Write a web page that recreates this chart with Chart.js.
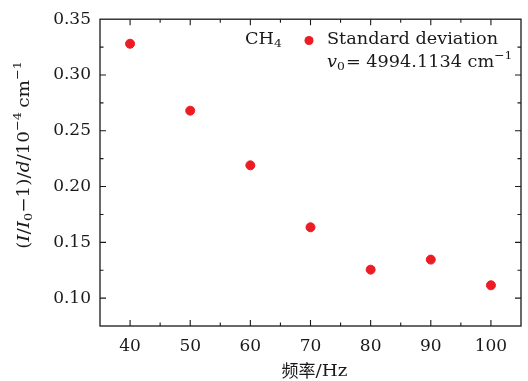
<!DOCTYPE html>
<html>
<head>
<meta charset="utf-8">
<script src="https://cdn.jsdelivr.net/npm/chart.js@4.4.1/dist/chart.umd.min.js"></script>
<style>
  html, body { margin: 0; padding: 0; background: #fff; }
  #wrap { width: 528px; height: 381px; }
</style>
</head>
<body>
<div id="wrap"><canvas id="chart" width="528" height="381"></canvas></div>
<script>
const frequencies = [40, 50, 60, 70, 80, 90, 100];
const deviations = [0.328, 0.268, 0.219, 0.1635, 0.1255, 0.1345, 0.1115];
const xTicks = [40, 50, 60, 70, 80, 90, 100];
const xMinorTicks = [35, 45, 55, 65, 75, 85, 95, 105];
const yTicks = [0.10, 0.15, 0.20, 0.25, 0.30, 0.35];
const yMinorTicks = [0.075, 0.125, 0.175, 0.225, 0.275, 0.325];

const serif = "'DejaVu Serif', 'Liberation Serif', serif";
const textColor = "#1a1a1a";
const red = "rgb(237, 28, 36)";
const fs = 17;
let stretch = 1.08; // reference glyphs are a bit wider than tall

// draws a list of text runs, with italic / sub / sup pieces
function drawRich(ctx, runs, x, y, size) {
  let cx = 0;
  ctx.save();
  ctx.translate(x, y);
  ctx.scale(stretch, 1);
  runs.forEach((r) => {
    const s = r.sub || r.sup ? size * 0.7 : size;
    ctx.font = (r.italic ? "italic " : "") + s + "px " + serif;
    let dy = 0;
    if (r.sub) dy = size * 0.25;
    if (r.sup) dy = -size * 0.4;
    ctx.fillText(r.t, cx, dy);
    cx += ctx.measureText(r.t).width + (r.gap || 0);
  });
  ctx.restore();
  return cx * stretch;
}

function richWidth(ctx, runs, size) {
  let w = 0;
  ctx.save();
  runs.forEach((r) => {
    const s = r.sub || r.sup ? size * 0.7 : size;
    ctx.font = (r.italic ? "italic " : "") + s + "px " + serif;
    w += ctx.measureText(r.t).width + (r.gap || 0);
  });
  ctx.restore();
  return w * stretch;
}

const decorations = {
  id: "decorations",
  afterDraw(chart) {
    const ctx = chart.ctx;
    const a = chart.chartArea;
    const xs = chart.scales.x;
    const ys = chart.scales.y;
    ctx.save();
    ctx.strokeStyle = textColor;
    ctx.lineWidth = 1.3;
    ctx.strokeRect(a.left, a.top, a.right - a.left, a.bottom - a.top);

    // inward ticks on all four sides
    ctx.lineWidth = 1.1;
    ctx.beginPath();
    const tick = (vals, len) => {
      vals.forEach((v) => {
        const px = xs.getPixelForValue(v);
        if (px > a.left + 1 && px < a.right - 1) {
          ctx.moveTo(px, a.bottom); ctx.lineTo(px, a.bottom - len);
          ctx.moveTo(px, a.top); ctx.lineTo(px, a.top + len);
        }
      });
    };
    const ytick = (vals, len) => {
      vals.forEach((v) => {
        const py = ys.getPixelForValue(v);
        if (py > a.top + 1 && py < a.bottom - 1) {
          ctx.moveTo(a.left, py); ctx.lineTo(a.left + len, py);
          ctx.moveTo(a.right, py); ctx.lineTo(a.right - len, py);
        }
      });
    };
    tick(xTicks, 6); tick(xMinorTicks, 3.5);
    ytick(yTicks, 6); ytick(yMinorTicks, 3.5);
    ctx.stroke();

    ctx.fillStyle = textColor;
    ctx.textBaseline = "middle";
    ctx.textAlign = "left";

    // legend
    stretch = 1.04;
    drawRich(ctx, [{ t: "CH" }, { t: "4", sub: true }], 245, 40, fs);
    ctx.fillStyle = red;
    ctx.beginPath();
    ctx.arc(309, 40.5, 4.5, 0, Math.PI * 2);
    ctx.fill();
    ctx.fillStyle = textColor;
    drawRich(ctx, [{ t: "Standard deviation" }], 327, 40, fs);
    drawRich(ctx, [
      { t: "v", italic: true }, { t: "0", sub: true, gap: 1 },
      { t: "= 4994.1134 cm" }, { t: "−1", sup: true }
    ], 327, 63, fs);
    stretch = 1.08;

    // x title
    ctx.font = fs + "px 'Noto Sans CJK SC', sans-serif";
    const cjk = "频率";
    const w1 = ctx.measureText(cjk).width;
    ctx.font = fs + "px " + serif;
    const w2 = ctx.measureText("/Hz").width * stretch;
    const xc = (a.left + a.right) / 2 - (w1 + w2) / 2 + 4;
    ctx.font = fs + "px 'Noto Sans CJK SC', sans-serif";
    ctx.fillText(cjk, xc, 371);
    drawRich(ctx, [{ t: "/Hz" }], xc + w1, 372, fs);

    // y title, rotated
    const yRuns = [
      { t: "(" }, { t: "I", italic: true }, { t: "/" }, { t: "I", italic: true },
      { t: "0", sub: true }, { t: "−1)/" }, { t: "d", italic: true },
      { t: "/10" }, { t: "−4", sup: true, gap: 4 }, { t: "cm" }, { t: "−1", sup: true }
    ];
    const yw = richWidth(ctx, yRuns, fs);
    ctx.translate(25, 155);
    ctx.rotate(-Math.PI / 2);
    drawRich(ctx, yRuns, -yw / 2, 0, fs);
    ctx.restore();
  }
};

new Chart(document.getElementById("chart"), {
  type: "scatter",
  data: {
    datasets: [
      {
        label: "Standard deviation",
        data: frequencies.map((f, i) => ({ x: f, y: deviations[i] })),
        backgroundColor: red,
        borderColor: red,
        pointRadius: 4.5,
        pointHoverRadius: 4.5,
      },
    ],
  },
  options: {
    responsive: false,
    animation: false,
    layout: { padding: { left: 0, right: 7, top: 15, bottom: 0 } },
    plugins: { legend: { display: false }, tooltip: { enabled: false } },
    scales: {
      x: {
        type: "linear",
        min: 35,
        max: 105,
        afterBuildTicks: (scale) => {
          scale.ticks = xTicks.map((v) => ({ value: v }));
        },
        afterFit: (scale) => { scale.height = 55; },
        grid: { display: false, drawTicks: false },
        border: { display: false },
        ticks: {
          padding: 10,
          color: textColor,
          font: { family: serif, size: fs },
          maxRotation: 0,
        },
      },
      y: {
        min: 0.075,
        max: 0.35,
        afterBuildTicks: (scale) => {
          scale.ticks = yTicks.map((v) => ({ value: v }));
        },
        afterFit: (scale) => { scale.width = 100; },
        grid: { display: false, drawTicks: false },
        border: { display: false },
        ticks: {
          padding: 9,
          color: textColor,
          font: { family: serif, size: fs },
          callback: (v) => v.toFixed(2),
        },
      },
    },
  },
  plugins: [decorations],
});
</script>
</body>
</html>
